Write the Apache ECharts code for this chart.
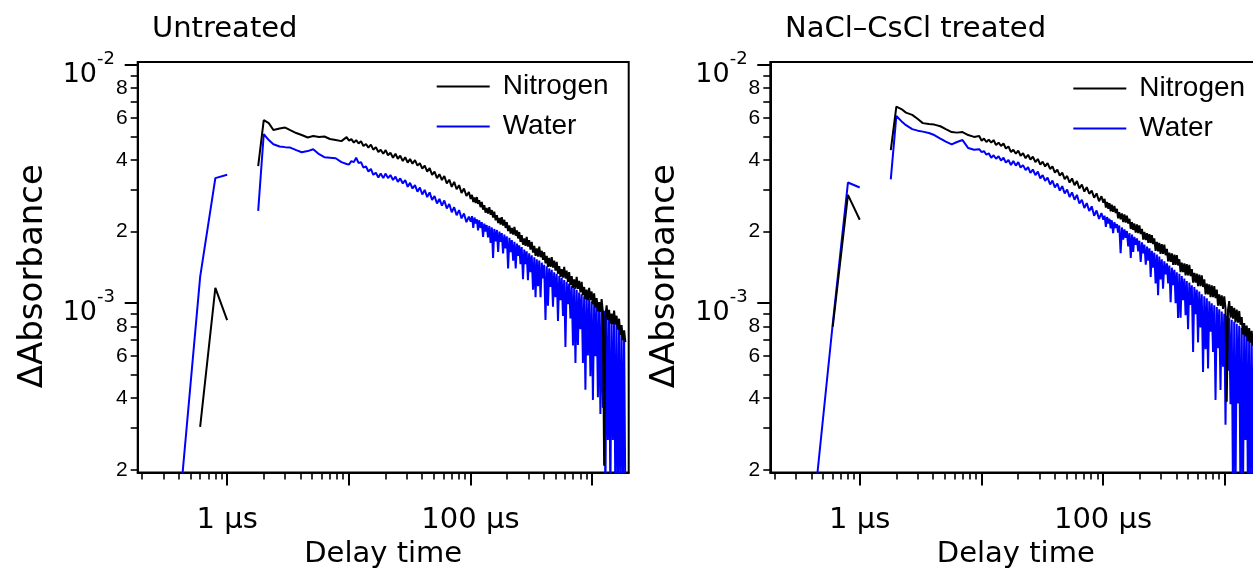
<!DOCTYPE html>
<html><head><meta charset="utf-8">
<script src="https://cdn.jsdelivr.net/npm/echarts@6/dist/echarts.min.js"></script>
<style>html,body{margin:0;padding:0;background:#fff}#c{width:1253px;height:570px}</style>
</head><body><div id="c"></div>
<script>
// Delay times (µs), shared by all traces
const delayTimes = [0.4, 0.6, 0.8, 1.0, 1.4, 1.8, 2.0, 2.2, 2.4, 2.7, 3.0, 3.3, 3.7, 4.1, 4.6, 5.1, 5.7, 6.3, 7.0, 7.8, 8.7, 9.6,
  10.05, 10.5, 11, 11.5, 12.05, 12.6, 13.2, 13.85, 14.5, 15.2, 15.9, 16.7, 17.5, 18.3, 19.2, 20.1, 21, 22, 23.1, 24.2, 25.3, 26.5, 27.8, 29.1,
  30.5, 31.9, 33.4, 35, 36.7, 38.4, 40.2, 42.1, 44.1, 46.2, 48.4, 50.7, 53.1, 55.6, 58.3, 61, 63.9, 67, 70.2, 73.5, 77, 80.7, 84.5, 88.5, 92.7, 97.1,
  100.5, 103, 105.5, 108, 110.5, 113, 115.5, 118, 121, 124, 127, 130, 133, 136, 139.5, 143, 146.5, 150, 153.5, 157,
  161, 165, 169, 173, 177, 181, 185.5, 190, 194.5, 199, 204, 209, 214, 219, 224.5, 230, 235.5, 241, 246.5, 252,
  258, 264, 270.5, 277, 283.5, 290, 297, 304, 311.5, 319, 327, 335, 343, 351, 359.5, 368, 377, 386, 395, 404,
  414, 424, 434, 444, 455, 466, 477, 488, 500, 512, 524.5, 537, 550, 563, 576.5, 590, 604, 618, 633, 648,
  664, 680, 696.5, 713, 730, 747, 765, 783, 802, 821, 841, 861, 881.5, 902, 924, 946, 969, 992, 1016, 1040,
  1065, 1090, 1116.5, 1143, 1170.5, 1198, 1227, 1256, 1286.5, 1317, 1348.5, 1380, 1413.5, 1447, 1482, 1517, 1553.5, 1590, 1628.5, 1667,
  1707.5, 1748, 1790.5, 1833, 1877];

// ΔAbsorbance values in units of 10^-3 (null = no data)
const untreatedNitrogen = [null, 0.303, 1.16, 0.85, null, 3.76, 5.87, 5.70, 5.33, 5.41, 5.46, 5.33, 5.18, 5.08, 4.96, 5.03, 4.99, 5.01, 4.89, 4.84, 4.79, 4.98,
  4.81, 4.88, 4.72, 4.84, 4.68, 4.79, 4.57, 4.66, 4.50, 4.63, 4.41, 4.52, 4.31, 4.41, 4.24, 4.39, 4.18, 4.28, 4.08, 4.24, 4.04, 4.16, 3.95, 4.10, 3.89,
  4.03, 3.85, 3.99, 3.78, 3.87, 3.67, 3.78, 3.57, 3.69, 3.46, 3.57, 3.35, 3.48, 3.29, 3.42, 3.18, 3.30, 3.08, 3.23, 3.01, 3.13, 2.90, 3.03, 2.82, 2.93,
  2.74, 2.85, 2.66, 2.78, 2.63, 2.79, 2.61, 2.71, 2.53, 2.66,
  2.47, 2.58, 2.40, 2.51, 2.38, 2.53, 2.35, 2.46, 2.29, 2.42,
  2.23, 2.34, 2.17, 2.28, 2.14, 2.30, 2.12, 2.24, 2.07, 2.19,
  2.01, 2.12, 1.96, 2.07, 1.94, 2.09, 1.92, 2.02, 1.87, 1.99,
  1.81, 1.93, 1.76, 1.87, 1.74, 1.90, 1.73, 1.84, 1.68, 1.81,
  1.63, 1.74, 1.58, 1.70, 1.57, 1.73, 1.56, 1.66, 1.52, 1.64,
  1.47, 1.58, 1.42, 1.55, 1.42, 1.56, 1.41, 1.51, 1.37, 1.49,
  1.33, 1.43, 1.29, 1.39, 1.28, 1.42, 1.27, 1.37, 1.23, 1.35,
  1.19, 1.30, 1.16, 1.26, 1.15, 1.29, 1.15, 1.24, 1.11, 1.23,
  1.08, 1.17, 1.04, 1.14, 1.03, 1.16, 1.03, 1.12, 0.99, 1.10,
  0.959, 1.05, 0.925, 1.01, 0.920, 1.04, 0.915, 0.208, 0.882, 0.979,
  0.852, 0.937, 0.821, 0.904, 0.817, 0.931, 0.814, 0.886, 0.775, 0.861,
  0.736, 0.809, 0.700, 0.770, 0.687];
const untreatedWater = [0.128, 1.29, 3.35, 3.46, null, 2.44, 5.13, 4.84, 4.65, 4.55, 4.52, 4.50, 4.39, 4.30, 4.35, 4.43, 4.22, 4.10, 4.08, 4.06, 3.91, 3.84,
  3.82, 3.95, 3.91, 4.08, 3.87, 3.91, 3.71, 3.75, 3.57, 3.66, 3.46, 3.53, 3.37, 3.50, 3.35, 3.50, 3.35, 3.45, 3.29, 3.40, 3.23, 3.34, 3.18, 3.29, 3.08,
  3.20, 3.03, 3.13, 2.94, 3.06, 2.86, 2.99, 2.79, 2.92, 2.71, 2.82, 2.62, 2.74, 2.57, 2.70, 2.50, 2.61, 2.41, 2.53, 2.34, 2.46, 2.27, 2.38, 2.19, 2.31,
  2.20, 2.32, 2.07, 2.29, 2.16, 2.25, 2.02, 2.23, 2.07, 2.19,
  1.90, 2.16, 2.00, 2.13, 1.89, 2.11, 1.79, 2.08, 1.55, 2.05,
  1.82, 2.03, 1.64, 2.00, 1.81, 1.97, 1.62, 1.94, 1.70, 1.91,
  1.40, 1.88, 1.64, 1.84, 1.51, 1.81, 1.40, 1.78, 1.58, 1.75,
  1.46, 1.72, 1.26, 1.68, 1.46, 1.65, 1.25, 1.62, 1.35, 1.59,
  1.14, 1.56, 1.06, 1.53, 1.18, 1.51, 1.06, 1.48, 1.27, 1.45,
  0.851, 1.43, 0.976, 1.40, 1.17, 1.38, 0.966, 1.35, 1.06, 1.33,
  0.843, 1.30, 1.03, 1.28, 0.884, 1.25, 0.656, 1.23, 0.99, 1.21,
  0.864, 1.18, 0.665, 1.16, 0.562, 1.14, 0.668, 1.11, 0.778, 1.09,
  0.561, 1.07, 0.433, 1.06, 0.604, 1.04, 0.494, 1.02, 0.393, 1.00,
  0.599, 0.983, 0.403, 0.970, 0.343, 0.949, 0.364, 0.929, 0.15, 0.909,
  0.267, 0.890, 0.15, 0.872, 0.267, 0.853, 0.15, 0.831, 0.15, 0.807,
  0.15, 0.784, 0.15, 0.761, 0.15];
const treatedNitrogen = [null, 0.797, 2.85, 2.24, null, 4.39, 6.68, 6.53, 6.31, 6.17, 5.93, 5.70, 5.65, 5.62, 5.53, 5.38, 5.23, 5.20, 5.23, 5.08, 4.99, 5.03,
  4.81, 4.91, 4.75, 4.86, 4.72, 4.84, 4.61, 4.72, 4.57, 4.68, 4.46, 4.55, 4.31, 4.41, 4.24, 4.37, 4.16, 4.26, 4.06, 4.20, 4.01, 4.12, 3.91, 4.03, 3.82,
  3.93, 3.75, 3.87, 3.66, 3.75, 3.53, 3.64, 3.43, 3.53, 3.32, 3.42, 3.21, 3.34, 3.13, 3.26, 3.03, 3.15, 2.94, 3.07, 2.88, 2.97, 2.77, 2.89, 2.68, 2.81,
  2.64, 2.74, 2.52, 2.66, 2.49, 2.63, 2.43, 2.59, 2.42, 2.56,
  2.39, 2.49, 2.27, 2.41, 2.25, 2.38, 2.19, 2.36, 2.18, 2.33,
  2.16, 2.26, 2.05, 2.19, 2.03, 2.16, 1.98, 2.14, 1.97, 2.12,
  1.95, 2.05, 1.85, 1.99, 1.84, 1.97, 1.79, 1.95, 1.79, 1.93,
  1.77, 1.87, 1.66, 1.81, 1.65, 1.79, 1.61, 1.77, 1.61, 1.76,
  1.59, 1.69, 1.50, 1.63, 1.49, 1.62, 1.45, 1.60, 1.45, 1.59,
  1.44, 1.53, 1.35, 1.48, 1.35, 1.47, 1.31, 1.46, 1.31, 1.45,
  1.30, 1.39, 1.22, 1.34, 1.22, 1.33, 1.18, 1.32, 1.18, 1.31,
  1.17, 1.26, 1.09, 1.21, 1.09, 1.20, 1.06, 1.19, 1.06, 1.18,
  1.05, 1.14, 0.977, 1.09, 0.975, 1.08, 0.946, 1.07, 0.950, 0.386,
  0.940, 1.02, 0.870, 0.972, 0.862, 0.956, 0.831, 0.941, 0.829, 0.928,
  0.812, 0.875, 0.739, 0.826, 0.725, 0.805, 0.693, 0.787, 0.683, 0.765,
  0.663, 0.718, 0.601, 0.674, 0.588];
const treatedWater = [0.109, 0.82, 3.21, 3.06, null, 3.31, 6.11, 5.81, 5.59, 5.38, 5.30, 5.25, 5.18, 5.08, 4.91, 4.77, 4.64, 4.75, 4.84, 4.48, 4.41, 4.43,
  4.31, 4.35, 4.20, 4.26, 4.08, 4.18, 4.04, 4.14, 3.97, 4.08, 3.89, 3.99, 3.80, 3.95, 3.78, 3.91, 3.71, 3.80, 3.62, 3.73, 3.52, 3.64, 3.45, 3.57, 3.34,
  3.45, 3.26, 3.37, 3.15, 3.27, 3.06, 3.18, 2.97, 3.10, 2.89, 3.00, 2.79, 2.92, 2.72, 2.85, 2.62, 2.72, 2.51, 2.63, 2.44, 2.55, 2.33, 2.45, 2.26, 2.39,
  2.24, 2.33, 2.09, 2.30, 2.16, 2.26, 2.06, 2.23, 1.97, 2.19,
  2.07, 2.15, 1.98, 2.12, 1.62, 2.08, 1.85, 2.04, 1.88, 2.01,
  1.73, 1.97, 1.55, 1.94, 1.64, 1.90, 1.76, 1.87, 1.65, 1.83,
  1.49, 1.80, 1.62, 1.76, 1.45, 1.73, 1.51, 1.70, 1.29, 1.66,
  1.41, 1.63, 1.21, 1.60, 1.08, 1.57, 1.26, 1.53, 1.15, 1.50,
  1.32, 1.47, 1.21, 1.44, 1.01, 1.41, 1.19, 1.38, 1.00, 1.35,
  0.868, 1.33, 0.869, 1.30, 1.03, 1.27, 0.890, 1.24, 0.777, 1.22,
  0.983, 1.19, 0.625, 1.17, 0.899, 1.14, 0.685, 1.12, 0.792, 1.09,
  0.515, 1.07, 0.641, 1.05, 0.532, 1.02, 0.759, 1.00, 0.624, 0.981,
  0.393, 0.964, 0.648, 0.943, 0.432, 0.923, 0.542, 0.904, 0.309, 0.886,
  0.521, 0.869, 0.377, 0.852, 0.15, 0.836, 0.15, 0.821, 0.380, 0.805,
  0.15, 0.789, 0.15, 0.774, 0.267, 0.759, 0.15, 0.744, 0.15, 0.730,
  0.15, 0.716, 0.15, 0.703, 0.15];

// Axis ticks
const xMajorTicks = [1, 10, 100, 1000];
const xMinorTicks = [0.2, 0.3, 0.4, 0.5, 0.6, 0.7, 0.8, 0.9, 2, 3, 4, 5, 6, 7, 8, 9, 20, 30, 40, 50, 60, 70, 80, 90, 200, 300, 400, 500, 600, 700, 800, 900];
const xLabelTicks = [1, 100];
const yMajorTicks = [1e-3, 1e-2];
const yMinorTicks = [2e-4, 3e-4, 4e-4, 5e-4, 6e-4, 7e-4, 8e-4, 9e-4, 2e-3, 3e-3, 4e-3, 5e-3, 6e-3, 7e-3, 8e-3, 9e-3];
const yMinorLabelTicks = [2e-4, 4e-4, 6e-4, 8e-4, 2e-3, 4e-3, 6e-3, 8e-3];

const panelTitles = ['Untreated', 'NaCl\u2013CsCl treated'];
const seriesNames = ['Nitrogen', 'Water'];

const MILLI = 1e-3;
function toPairs(vals) {
  return delayTimes.map((t, i) => [t, vals[i] == null ? null : vals[i] * MILLI]);
}

const FW = 'DejaVu Sans';
const FN = 'Liberation Sans';
const X_MIN = 0.184, X_MAX = 2000, Y_MIN = 1.95e-4, Y_MAX = 1.03e-2;
const GRID_TOP = 61.9, GRID_H = 410.5, GRID_W = 491;

const panels = [
  {left: 137.7, titleLeft: 152, legendLeft: 436.7, legendTop: 72.5, n: untreatedNitrogen, w: untreatedWater},
  {left: 770.3, titleLeft: 785, legendLeft: 1073.3, legendTop: 74.5, n: treatedNitrogen, w: treatedWater}
];

const option = {
  animation: false,
  backgroundColor: '#fff',
  title: [], legend: [], grid: [], xAxis: [], yAxis: [], series: []
};

panels.forEach((p, i) => {
  option.title.push({
    text: panelTitles[i], left: p.titleLeft, top: 15, padding: 0,
    textStyle: {fontFamily: FW, fontSize: 29, fontWeight: 'normal', color: '#000'}
  });
  option.legend.push({
    left: p.legendLeft, top: p.legendTop, orient: 'vertical', padding: 0,
    data: seriesNames, icon: 'rect', itemWidth: 53, itemHeight: 2, itemGap: 12,
    selectedMode: false,
    textStyle: {fontFamily: FN, fontSize: 28, color: '#000', padding: [0, 0, 0, 8]}
  });
  option.grid.push({
    left: p.left, top: GRID_TOP, width: GRID_W, height: GRID_H,
    containLabel: false, outerBoundsMode: 'none',
    show: true, borderColor: '#000', borderWidth: 2, backgroundColor: 'transparent'
  });
  option.xAxis.push({
    type: 'log', gridIndex: i, position: 'bottom', min: X_MIN, max: X_MAX,
    axisLine: {show: true, onZero: false, lineStyle: {color: '#000', width: 2}},
    axisTick: {show: true, customValues: xMajorTicks, length: 13, lineStyle: {color: '#000', width: 2}},
    axisLabel: {show: true, customValues: xLabelTicks, margin: 34, color: '#000', fontFamily: FW, fontSize: 29,
      formatter: v => Math.round(v) + ' µs'},
    splitLine: {show: false},
    name: 'Delay time', nameLocation: 'middle', nameGap: 64,
    nameTextStyle: {fontFamily: FW, fontSize: 29, color: '#000'}
  });
  option.xAxis.push({
    type: 'log', gridIndex: i, position: 'bottom', min: X_MIN, max: X_MAX,
    axisLine: {show: false},
    axisTick: {show: true, customValues: xMinorTicks, length: 7, lineStyle: {color: '#000', width: 1.6}},
    axisLabel: {show: false}, splitLine: {show: false}
  });
  option.yAxis.push({
    type: 'log', gridIndex: i, position: 'left', min: Y_MIN, max: Y_MAX,
    axisLine: {show: true, onZero: false, lineStyle: {color: '#000', width: 2}},
    axisTick: {show: true, customValues: yMajorTicks, length: 13, lineStyle: {color: '#000', width: 2}},
    axisLabel: {show: true, customValues: yMajorTicks, margin: 22.7, padding: [9, 0, 0, 0],
      formatter: v => '{b|10}{s|' + Math.round(Math.log10(v)) + '}',
      rich: {
        b: {fontFamily: FW, fontSize: 27, lineHeight: 38, verticalAlign: 'bottom', color: '#000'},
        s: {fontFamily: FW, fontSize: 18, lineHeight: 10, verticalAlign: 'top', color: '#000'}
      }},
    splitLine: {show: false},
    name: '\u0394Absorbance', nameLocation: 'middle', nameGap: 88,
    nameTextStyle: {fontFamily: FW, fontSize: 34, color: '#000', padding: [0, 18, 0, 0]}
  });
  option.yAxis.push({
    type: 'log', gridIndex: i, position: 'left', min: Y_MIN, max: Y_MAX,
    axisLine: {show: false},
    axisTick: {show: true, customValues: yMinorTicks, length: 7, lineStyle: {color: '#000', width: 1.6}},
    axisLabel: {show: true, customValues: yMinorLabelTicks, margin: 10, color: '#000', fontFamily: FN, fontSize: 21,
      formatter: v => String(Math.round(v / Math.pow(10, Math.floor(Math.log10(v) + 1e-9))))},
    splitLine: {show: false}
  });
  const common = {type: 'line', xAxisIndex: 2 * i, yAxisIndex: 2 * i, showSymbol: false, symbol: 'none',
    connectNulls: false, clip: true, silent: true, emphasis: {disabled: true}, sampling: null};
  option.series.push(Object.assign({}, common, {
    name: 'Water', data: toPairs(p.w), color: '#0000ff',
    lineStyle: {color: '#0000ff', width: 2}, itemStyle: {color: '#0000ff'}
  }));
  option.series.push(Object.assign({}, common, {
    name: 'Nitrogen', data: toPairs(p.n), color: '#000000',
    lineStyle: {color: '#000000', width: 2}, itemStyle: {color: '#000000'}
  }));
});

const chart = echarts.init(document.getElementById('c'), null, {renderer: 'canvas'});
chart.setOption(option);
</script>
</body></html>
